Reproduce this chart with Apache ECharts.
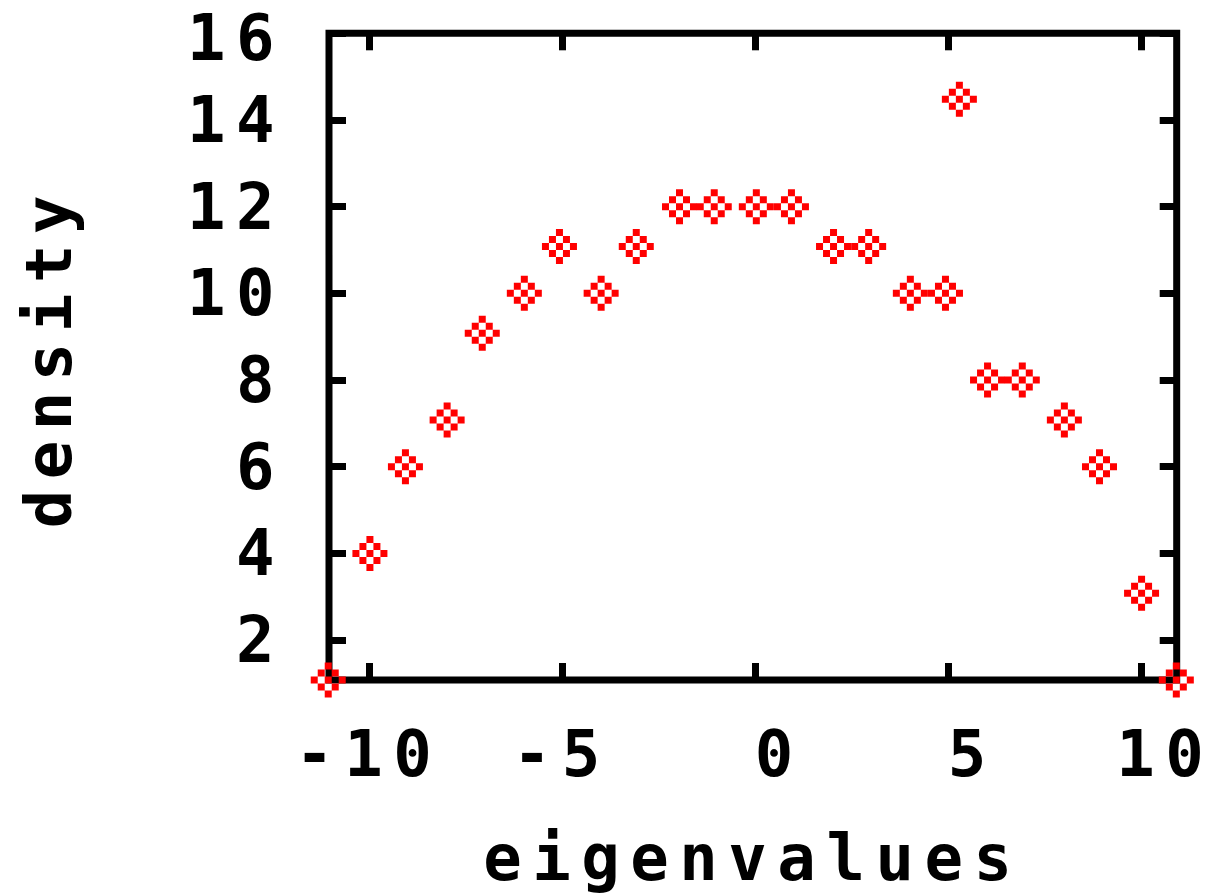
<!DOCTYPE html>
<html>
<head>
<meta charset="utf-8">
<script src="https://cdn.jsdelivr.net/npm/echarts@6/dist/echarts.min.js"></script>
<style>
  html, body { margin: 0; padding: 0; background: #fff; }
  #main { width: 1213px; height: 895px; }
  #main svg text { letter-spacing: 10.5px; white-space: pre; }
</style>
</head>
<body>
<div id="main"></div>
<script>
// Data
const eigenvalues = [-11.05, -9.97, -9.05, -7.97, -7.06, -5.97, -5.06, -3.98, -3.07, -1.95,
                     -1.05, 0.04, 0.95, 2.04, 2.95, 4.03, 4.94, 5.30, 6.03, 6.93,
                     8.02, 8.93, 10.02, 10.92];
const density = [1.08, 4.0, 6.0, 7.08, 9.08, 10.0, 11.08, 10.0, 11.08, 12.0,
                 12.0, 12.0, 12.0, 11.08, 11.08, 10.0, 10.0, 14.48, 8.0, 8.0,
                 7.08, 6.0, 3.08, 1.08];
const xTicks = [-10, -5, 0, 5, 10];
const yTicks = [2, 4, 6, 8, 10, 12, 14, 16];
const xName = 'eigenvalues';
const yName = 'density';

const X_MIN = -11.03, X_MAX = 10.93, Y_MIN = 1.08, Y_MAX = 16;
const FONT = "'DejaVu Sans Mono', 'Liberation Mono', monospace";
const FS = 64;

const chart = echarts.init(document.getElementById('main'), null, { renderer: 'svg' });

const tickStyle = { color: '#000', width: 7 };
const gnuFmt = v => (v < 0 ? '' : ' ') + v;
const yFmt = v => (v === Y_MAX ? '{t|' + v + '}' : String(v));
const noLine = { show: false, onZero: false };
const labelFont = { color: '#000', fontFamily: FONT, fontSize: FS, fontWeight: 'bold', lineHeight: FS };

const option = {
  animation: false,
  backgroundColor: '#fff',
  grid: {
    left: 329, right: 36.3, top: 33.3, bottom: 215,
    show: true, borderColor: '#000', borderWidth: 7, backgroundColor: 'transparent',
    containLabel: false, outerBoundsMode: 'none'
  },
  xAxis: [
    {
      type: 'value', min: X_MIN, max: X_MAX, position: 'bottom',
      axisLine: noLine, splitLine: { show: false },
      axisTick: { show: true, inside: true, length: 17, lineStyle: tickStyle, customValues: xTicks },
      axisLabel: Object.assign({ customValues: xTicks, formatter: gnuFmt, margin: 42 }, labelFont),
      name: xName, nameLocation: 'middle', nameGap: 146, nameMoveOverlap: false,
      nameTextStyle: Object.assign({ verticalAlign: 'top' }, labelFont)
    },
    {
      type: 'value', min: X_MIN, max: X_MAX, position: 'top',
      axisLine: noLine, splitLine: { show: false },
      axisTick: { show: true, inside: true, length: 17, lineStyle: tickStyle, customValues: xTicks },
      axisLabel: { show: false }
    }
  ],
  yAxis: [
    {
      type: 'value', min: Y_MIN, max: Y_MAX, position: 'left',
      axisLine: noLine, splitLine: { show: false },
      axisTick: { show: true, inside: true, length: 17, lineStyle: tickStyle, customValues: yTicks },
      axisLabel: Object.assign({
        customValues: yTicks, margin: 44, formatter: yFmt,
        rich: { t: Object.assign({ padding: [10, 0, 0, 0] }, labelFont) }
      }, labelFont),
      name: yName, nameLocation: 'middle', nameGap: 248, nameRotate: 90, nameMoveOverlap: false,
      nameTextStyle: labelFont
    },
    {
      type: 'value', min: Y_MIN, max: Y_MAX, position: 'right',
      axisLine: noLine, splitLine: { show: false },
      axisTick: { show: true, inside: true, length: 17, lineStyle: tickStyle, customValues: yTicks },
      axisLabel: { show: false }
    }
  ],
  series: [
    {
      type: 'scatter',
      xAxisIndex: 0, yAxisIndex: 0,
      clip: false,
      symbol: 'path://M2 0h1v1h-1zM1 1h1v1h-1zM3 1h1v1h-1zM0 2h1v1h-1zM2 2h1v1h-1zM4 2h1v1h-1zM1 3h1v1h-1zM3 3h1v1h-1zM2 4h1v1h-1z',
      symbolSize: 35,
      itemStyle: { color: '#ff0000', opacity: 1 },
      data: eigenvalues.map((x, i) => [x, density[i]]),
      z: 5
    }
  ]
};
chart.setOption(option);
</script>
</body>
</html>
